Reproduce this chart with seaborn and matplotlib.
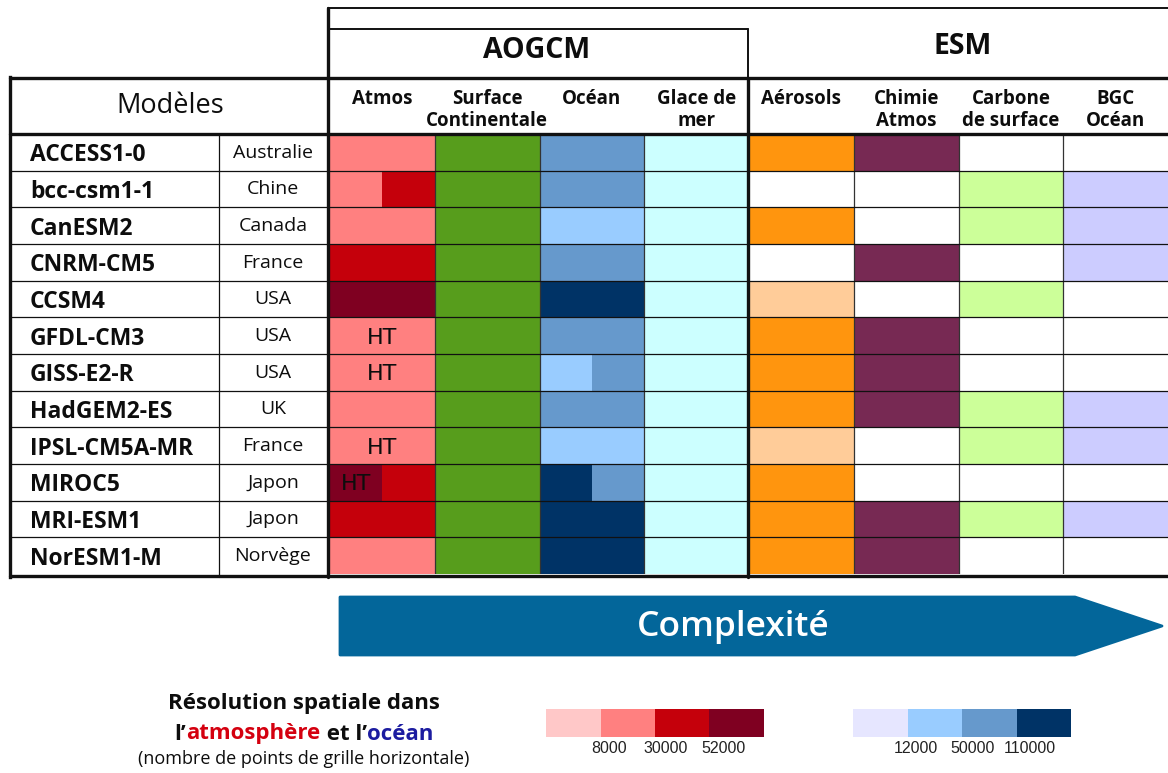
import matplotlib
matplotlib.use("Agg")
import matplotlib.pyplot as plt
from matplotlib.colors import ListedColormap
from matplotlib.patches import Polygon
import seaborn as sns
import pandas as pd

# ---- data ----
models = ["ACCESS1-0", "bcc-csm1-1", "CanESM2", "CNRM-CM5", "CCSM4", "GFDL-CM3",
          "GISS-E2-R", "HadGEM2-ES", "IPSL-CM5A-MR", "MIROC5", "MRI-ESM1", "NorESM1-M"]
countries = ["Australie", "Chine", "Canada", "France", "USA", "USA",
             "USA", "UK", "France", "Japon", "Japon", "Norvège"]
components = ["Atmos", "Surface\nContinentale", "Océan", "Glace de\nmer",
              "Aérosols", "Chimie\nAtmos", "Carbone\nde surface", "BGC\nOcéan"]

# atmosphere / ocean resolution class (1..4), "a/b" = cell split in two
atmos = ["2", "2/3", "2", "3", "4", "2", "2", "2", "2", "4/3", "3", "2"]
ocean = ["3", "3", "2", "3", "4", "3", "2/3", "3", "2", "4/3", "4", "4"]
surface = [1, 1, 1, 1, 1, 1, 1, 1, 1, 1, 1, 1]
seaice = [1, 1, 1, 1, 1, 1, 1, 1, 1, 1, 1, 1]
aerosols = [2, 0, 2, 0, 1, 2, 2, 2, 1, 2, 2, 2]   # 0 none, 1 partial, 2 full
chemistry = [1, 0, 0, 1, 0, 1, 1, 1, 0, 0, 1, 1]
land_carbon = [0, 1, 1, 0, 1, 0, 0, 1, 1, 0, 1, 0]
ocean_bgc = [0, 1, 1, 1, 0, 0, 0, 1, 1, 0, 1, 0]
high_top = [0, 0, 0, 0, 0, 1, 1, 0, 1, 1, 0, 0]

atm_ticks = ["8000", "30000", "52000"]
oce_ticks = ["12000", "50000", "110000"]

# ---- colours ----
reds = ["#ffc8c8", "#ff8080", "#c5000b", "#7f0021"]
blues = ["#e6e6ff", "#99ccff", "#6699cc", "#003366"]
colors = {
    "none": "#ffffff",
    "A1": reds[0], "A2": reds[1], "A3": reds[2], "A4": reds[3],
    "O1": blues[0], "O2": blues[1], "O3": blues[2], "O4": blues[3],
    "surf": "#579d1c", "ice": "#ccffff",
    "aero1": "#ffcc99", "aero2": "#ff950e",
    "chem": "#772953", "carb": "#ccff99", "bgc": "#ccccff",
}
keys = list(colors.keys())


def halves(val, prefix):
    parts = val.split("/")
    return prefix + parts[0], prefix + parts[-1]


rows = []
for i in range(len(models)):
    a1, a2 = halves(atmos[i], "A")
    o1, o2 = halves(ocean[i], "O")
    s = "surf" if surface[i] else "none"
    g = "ice" if seaice[i] else "none"
    ae = ["none", "aero1", "aero2"][aerosols[i]]
    ch = "chem" if chemistry[i] else "none"
    cb = "carb" if land_carbon[i] else "none"
    bg = "bgc" if ocean_bgc[i] else "none"
    codes = [a1, a2, s, s, o1, o2, g, g, ae, ae, ch, ch, cb, cb, bg, bg]
    rows.append([keys.index(c) for c in codes])
grid = pd.DataFrame(rows, index=models)

W, H = 1168, 773
sns.set_theme(style="white")
plt.rcParams["font.family"] = ["Open Sans", "DejaVu Sans"]
plt.rcParams["text.color"] = "#0d0d0d"

fig = plt.figure(figsize=(W / 100, H / 100), dpi=100)

# cell area
x0, x1 = 330, 1168
y0, y1 = 134, 574
rh = (y1 - y0) / len(models)
cw = (x1 - x0) / len(components)

ax_c = fig.add_axes([x0 / W, 1 - y1 / H, (x1 - x0) / W, (y1 - y0) / H])
sns.heatmap(grid, cmap=ListedColormap([colors[k] for k in keys]),
            vmin=-0.5, vmax=len(keys) - 0.5, cbar=False,
            xticklabels=False, yticklabels=False, ax=ax_c)
ax_c.set_xlabel("")
ax_c.set_ylabel("")
for xv in range(2, 16, 2):
    if xv != 8:
        ax_c.axvline(xv, color="#333333", lw=0.9)
for i, ht in enumerate(high_top):
    if ht:
        xt = 0.5 if "/" in atmos[i] else 1.0
        ax_c.text(xt, i + 0.55, "HT", ha="center", va="center", fontsize=16,
                  family="DejaVu Sans", color="#0d0d0d")

# overlay for table frame and texts
ax = fig.add_axes([0, 0, 1, 1], facecolor="none")
ax.set_xlim(0, W)
ax.set_ylim(H, 0)
ax.set_axis_off()

k = "#111111"
for i in range(1, len(models)):
    y = y0 + i * rh
    ax.plot([10, W], [y, y], color=k, lw=0.9)
ax.plot([219, 219], [y0, 577], color=k, lw=0.9)

thick = 2.4
ax.plot([10, 10], [77, 577], color=k, lw=thick, solid_capstyle="projecting")
ax.plot([10, W], [78, 78], color=k, lw=thick)
ax.plot([10, W], [y0, y0], color=k, lw=thick)
ax.plot([10, W], [576, 576], color=k, lw=thick)
ax.plot([328, 328], [8, 577], color=k, lw=thick)
ax.plot([748, 748], [78, 577], color=k, lw=thick)
ax.plot([328, W], [8, 8], color=k, lw=1.4)
ax.plot([328, 748], [29, 29], color=k, lw=1.4)
ax.plot([748, 748], [29, 78], color=k, lw=1.4)

ax.text(537, 51, "AOGCM", ha="center", va="center", fontsize=20.5, fontweight="bold")
ax.text(963, 47, "ESM", ha="center", va="center", fontsize=20.5, fontweight="bold")
ax.text(170, 106, "Modèles", ha="center", va="center", fontsize=19.5)

for j, name in enumerate(components):
    ax.text(x0 + (j + 0.5) * cw, 89, name, ha="center", va="top", fontsize=13.5,
            fontweight="bold", linespacing=1.15)

for i, (m, c) in enumerate(zip(models, countries)):
    yc = y0 + (i + 0.5) * rh
    ax.text(30, yc + 3, m, ha="left", va="center", fontsize=16.5, fontweight="bold")
    ax.text(273, yc + 0.5, c, ha="center", va="center", fontsize=14)

# complexity arrow
arrow = Polygon([(340, 597), (1075, 597), (1162, 626), (1075, 655), (340, 655)],
                closed=True, facecolor="#03669a", edgecolor="#03669a",
                lw=2, joinstyle="round")
ax.add_patch(arrow)
ax.text(733, 627, "Complexité", ha="center", va="center", fontsize=25.5,
        fontweight="semibold", color="white")

# legend text
ax.text(304, 703, "Résolution spatiale dans", ha="center", va="center",
        fontsize=16, fontweight="bold")
pieces = [("l’", "#0d0d0d"), ("atmosphère", "#d4000f"), (" et l’", "#0d0d0d"),
          ("océan", "#1c1ca0")]
fig.canvas.draw()
rend = fig.canvas.get_renderer()
texts = []
total = 0
for s, col in pieces:
    t = ax.text(0, 734, s, ha="left", va="center", fontsize=16,
                fontweight="bold", color=col)
    w = t.get_window_extent(renderer=rend).width
    texts.append((t, w))
    total += w
xpos = 304 - total / 2
for t, w in texts:
    t.set_x(xpos)
    xpos += w
ax.text(304, 759, "(nombre de points de grille horizontale)", ha="center",
        va="center", fontsize=13)

# legend colour bars
for cols, labels, left in [(reds, atm_ticks, 546), (blues, oce_ticks, 853)]:
    axl = fig.add_axes([left / W, 1 - 737 / H, 218 / W, 28 / H])
    sns.heatmap(pd.DataFrame([[0, 1, 2, 3]]), cmap=ListedColormap(cols),
                vmin=-0.5, vmax=3.5, cbar=False, yticklabels=False, ax=axl)
    axl.set_xticks([1.15, 2.2, 3.25])
    axl.set_xticklabels(labels, fontsize=11.5, family="Liberation Sans",
                        color="#222222")
    axl.tick_params(axis="x", length=0, pad=3)

fig.savefig("out.png", dpi=100)
